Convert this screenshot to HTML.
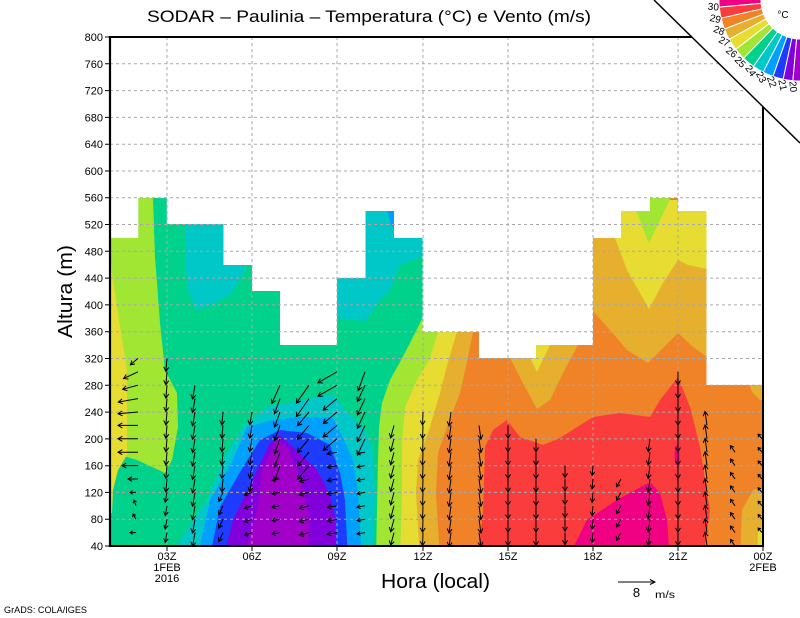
<!DOCTYPE html>
<html><head><meta charset="utf-8"><style>
html,body{margin:0;padding:0;background:#fff;}
svg{display:block;}
text{font-family:"Liberation Sans",sans-serif;fill:#000;}
</style></head><body>
<svg width="800" height="618" viewBox="0 0 800 618" xmlns="http://www.w3.org/2000/svg">
<defs>
<clipPath id="dom"><path d="M110,546 L110,238 L138.4,238 L138.4,198 L166.8,198 L166.8,224 L223.5,224 L223.5,265 L252,265 L252,291 L280,291 L280,345 L337,345 L337,278 L365.6,278 L365.6,211 L394,211 L394,238 L422.5,238 L422.5,332 L479,332 L479,358 L536,358 L536,345 L593,345 L593,238 L621,238 L621,211 L650,211 L650,198 L678,198 L678,211 L706.5,211 L706.5,385 L763,385 L763,546 Z"/></clipPath>
<clipPath id="plot"><rect x="110" y="37" width="653" height="509"/></clipPath>
<path id="v6" d="M0 0H6M3.4 -1.8L6 0L3.4 1.8"/>
<path id="v8" d="M0 0H8M4.8 -2L8 0L4.8 2"/>
<path id="v9" d="M0 0H9M5.5 -2.2L9 0L5.5 2.2"/>
<path id="v10" d="M0 0H10M6 -2.3L10 0L6 2.3"/>
<path id="v12" d="M0 0H12M7.7 -2.5L12 0L7.7 2.5"/>
<path id="v13" d="M0 0H13M8.7 -2.5L13 0L8.7 2.5"/>
<path id="v14" d="M0 0H14M9.7 -2.5L14 0L9.7 2.5"/>
<path id="v16" d="M0 0H16M11.7 -2.5L16 0L11.7 2.5"/>
<path id="v18" d="M0 0H18M13.7 -2.5L18 0L13.7 2.5"/>
<path id="v20" d="M0 0H20M15.7 -2.5L20 0L15.7 2.5"/>
<path id="v22" d="M0 0H22M17.7 -2.5L22 0L17.7 2.5"/>
</defs>
<rect x="0" y="0" width="800" height="618" fill="#fff"/>

<!-- shaded field -->
<g clip-path="url(#dom)">
<rect x="100" y="190" width="670" height="370" fill="#00d28c"/>
<path fill="#a0e632" d="M100,190 L153,190 L153,198 L155,257 L160,323 L165,370 L177,393 L178,427 L172,460 L165,473 L137,460 L127,457 L100,457 Z"/>
<path fill="#e6dc32" d="M100,255 L111,266 L119,320 L127,370 L127,455 L118,470 L113,490 L112,513 L100,513 Z"/>
<path fill="#a0e632" d="M423,190 L423,317 L410,343 L400,362 L390,380 L382,403 L379,427 L378,460 L377,510 L376,560 L770,560 L770,190 Z"/>
<path fill="#e6dc32" d="M438,190 L438,332 L430,358 L417,380 L405,407 L402,443 L402,493 L400,560 L770,560 L770,190 Z"/>
<path fill="#e6af2d" d="M457,190 L457,332 L448,362 L440,393 L430,427 L418,460 L416,493 L420,560 L770,560 L770,190 Z"/>
<path fill="#f08228" d="M473,190 L473,332 L467,362 L460,393 L447,427 L438,453 L436,493 L440,560 L770,560 L770,190 Z"/>
<path fill="#fa3c3c" d="M477,560 L483,513 L485,447 L493,430 L507,420 L520,437 L543,445 L560,438 L593,417 L620,413 L650,417 L660,400 L678,377 L690,407 L700,447 L707,493 L710,510 L703,560 Z"/>
<path fill="#f00082" d="M567,560 L587,520 L617,500 L650,482 L660,493 L667,520 L670,560 Z"/>
<ellipse cx="677" cy="456" rx="2.5" ry="11" fill="#f00082"/>
<path fill="#e6af2d" d="M510,340 L578,340 L578,345 L563,373 L550,400 L537,409 L525,387 L510,358 Z"/>
<path fill="#e6dc32" d="M530,340 L550,340 L550,345 L537,372 L530,358 Z"/>
<path fill="#e6af2d" d="M592,200 L707,200 L707,357 L693,347 L678,333 L648,363 L627,350 L610,330 L592,310 Z"/>
<path fill="#e6dc32" d="M615,200 L707,200 L707,269 L688,265 L678,260 L663,283 L649,309 L627,270 L615,238 Z"/>
<path fill="#a0e632" d="M636,195 L672,195 L649,243 L636,211 Z"/>
<path fill="#e6af2d" d="M748,380 L770,380 L770,402 L760,400 L752,392 Z"/>
<path fill="#e6af2d" d="M740,560 L742,510 L753,490 L770,486 L770,560 Z"/>
<path fill="#e6dc32" d="M757,560 L758,530 L770,524 L770,560 Z"/>
<path fill="#00c8c8" d="M185,200 L247,200 L247,265 L240,280 L230,295 L210,305 L196,310 L188,290 L185,260 Z"/>
<path fill="#00c8c8" d="M336,200 L423,200 L423,256 L400,265 L390,290 L380,300 L365,321 L336,318 Z"/>
<path fill="#00a0ff" d="M386,205 L395,205 L395,232 L390,222 Z"/>
<path fill="#00c8c8" d="M177,560 L178,546 L190,525 L207,500 L223,460 L243,427 L267,407 L293,402 L317,397 L335,395 L345,410 L363,427 L372,447 L375,493 L373,546 L373,560 Z"/>
<path fill="#00a0ff" d="M200,560 L200,546 L210,500 L233,460 L247,427 L273,420 L300,417 L333,418 L343,438 L353,460 L358,493 L362,560 Z"/>
<path fill="#1e3cff" d="M212,560 L212,546 L220,507 L243,467 L260,440 L280,430 L307,433 L330,445 L340,473 L345,500 L348,560 Z"/>
<path fill="#8200dc" d="M223,560 L233,520 L257,470 L270,443 L280,435 L293,447 L317,470 L330,495 L335,517 L337,560 Z"/>
<path fill="#a000c8" d="M243,560 L257,510 L263,467 L277,440 L287,447 L300,477 L310,520 L307,560 Z"/>
</g>

<!-- grid -->
<g stroke="#a8a8a8" stroke-width="1" stroke-dasharray="3,3" fill="none">
<path d="M110,63.8H763M110,90.6H763M110,117.4H763M110,144.2H763M110,171H763M110,197.7H763M110,224.5H763M110,251.3H763M110,278.1H763M110,304.9H763M110,331.7H763M110,358.5H763M110,385.3H763M110,412.1H763M110,438.9H763M110,465.7H763M110,492.4H763M110,519.2H763"/>
<path d="M167,37V546M252,37V546M337,37V546M423,37V546M508,37V546M593,37V546M678,37V546"/>
</g>

<!-- vectors -->
<g clip-path="url(#plot)" stroke="#000" stroke-width="1" fill="none">
<!-- A -->
<use href="#v10" transform="translate(138,358.4) rotate(140)"/>
<use href="#v16" transform="translate(138,371.8) rotate(155)"/>
<use href="#v16" transform="translate(138,385.2) rotate(165)"/>
<use href="#v20" transform="translate(138,398.6) rotate(170)"/>
<use href="#v20" transform="translate(138,412) rotate(175)"/>
<use href="#v20" transform="translate(138,425.4) rotate(180)"/>
<use href="#v20" transform="translate(138,438.8) rotate(180)"/>
<use href="#v20" transform="translate(138,452.2) rotate(180)"/>
<use href="#v16" transform="translate(138,465.6) rotate(180)"/>
<use href="#v10" transform="translate(138,479) rotate(180)"/>
<use href="#v6" transform="translate(136,492.4) rotate(180)"/>
<use href="#v6" transform="translate(136,505.8) rotate(250)"/>
<use href="#v6" transform="translate(136,519.2) rotate(240)"/>
<use href="#v6" transform="translate(136,532.6) rotate(180)"/>
<!-- B -->
<use href="#v13" transform="translate(167,358.4) rotate(95)"/>
<use href="#v13" transform="translate(167,371.8) rotate(95)"/>
<use href="#v13" transform="translate(167,385.2) rotate(95)"/>
<use href="#v13" transform="translate(167,398.6) rotate(95)"/>
<use href="#v13" transform="translate(167,412) rotate(95)"/>
<use href="#v13" transform="translate(167,425.4) rotate(95)"/>
<use href="#v13" transform="translate(167,438.8) rotate(95)"/>
<use href="#v13" transform="translate(167,452.2) rotate(95)"/>
<use href="#v13" transform="translate(167,465.6) rotate(95)"/>
<use href="#v13" transform="translate(167,479) rotate(95)"/>
<use href="#v10" transform="translate(167,492.4) rotate(100)"/>
<use href="#v10" transform="translate(167,505.8) rotate(100)"/>
<use href="#v10" transform="translate(167,519.2) rotate(100)"/>
<use href="#v10" transform="translate(167,532.6) rotate(100)"/>
<!-- C -->
<use href="#v14" transform="translate(195,385.2) rotate(100)"/>
<use href="#v14" transform="translate(195,398.6) rotate(100)"/>
<use href="#v14" transform="translate(195,412) rotate(100)"/>
<use href="#v14" transform="translate(195,425.4) rotate(100)"/>
<use href="#v14" transform="translate(195,438.8) rotate(100)"/>
<use href="#v14" transform="translate(195,452.2) rotate(100)"/>
<use href="#v14" transform="translate(195,465.6) rotate(100)"/>
<use href="#v14" transform="translate(195,479) rotate(100)"/>
<use href="#v14" transform="translate(195,492.4) rotate(100)"/>
<use href="#v14" transform="translate(195,505.8) rotate(100)"/>
<use href="#v14" transform="translate(195,519.2) rotate(100)"/>
<use href="#v14" transform="translate(195,532.6) rotate(100)"/>
<!-- D -->
<use href="#v13" transform="translate(223,412) rotate(95)"/>
<use href="#v13" transform="translate(223,425.4) rotate(95)"/>
<use href="#v13" transform="translate(223,438.8) rotate(95)"/>
<use href="#v13" transform="translate(223,452.2) rotate(95)"/>
<use href="#v13" transform="translate(223,465.6) rotate(95)"/>
<use href="#v13" transform="translate(223,479) rotate(95)"/>
<use href="#v10" transform="translate(223,492.4) rotate(115)"/>
<use href="#v10" transform="translate(223,505.8) rotate(115)"/>
<use href="#v10" transform="translate(223,519.2) rotate(115)"/>
<use href="#v10" transform="translate(223,532.6) rotate(115)"/>
<!-- E -->
<use href="#v13" transform="translate(252,412) rotate(100)"/>
<use href="#v13" transform="translate(252,425.4) rotate(100)"/>
<use href="#v13" transform="translate(252,438.8) rotate(100)"/>
<use href="#v13" transform="translate(252,452.2) rotate(100)"/>
<use href="#v13" transform="translate(252,465.6) rotate(100)"/>
<use href="#v13" transform="translate(252,479) rotate(100)"/>
<use href="#v8" transform="translate(252,492.4) rotate(160)"/>
<use href="#v8" transform="translate(252,505.8) rotate(160)"/>
<use href="#v8" transform="translate(252,519.2) rotate(160)"/>
<use href="#v8" transform="translate(252,532.6) rotate(160)"/>
<!-- F -->
<use href="#v20" transform="translate(280,385.2) rotate(114)"/>
<use href="#v16" transform="translate(280,398.6) rotate(110)"/>
<use href="#v16" transform="translate(280,412) rotate(110)"/>
<use href="#v16" transform="translate(280,425.4) rotate(110)"/>
<use href="#v16" transform="translate(280,438.8) rotate(110)"/>
<use href="#v16" transform="translate(280,452.2) rotate(110)"/>
<use href="#v16" transform="translate(280,465.6) rotate(110)"/>
<use href="#v8" transform="translate(280,479) rotate(170)"/>
<use href="#v8" transform="translate(280,492.4) rotate(170)"/>
<use href="#v8" transform="translate(280,505.8) rotate(170)"/>
<use href="#v8" transform="translate(280,519.2) rotate(170)"/>
<use href="#v8" transform="translate(280,532.6) rotate(170)"/>
<!-- G -->
<use href="#v22" transform="translate(309,385.2) rotate(125)"/>
<use href="#v22" transform="translate(309,398.6) rotate(125)"/>
<use href="#v18" transform="translate(309,412) rotate(130)"/>
<use href="#v18" transform="translate(309,425.4) rotate(130)"/>
<use href="#v18" transform="translate(309,438.8) rotate(130)"/>
<use href="#v18" transform="translate(309,452.2) rotate(130)"/>
<use href="#v18" transform="translate(309,465.6) rotate(130)"/>
<use href="#v10" transform="translate(309,479) rotate(165)"/>
<use href="#v10" transform="translate(309,492.4) rotate(165)"/>
<use href="#v10" transform="translate(309,505.8) rotate(165)"/>
<use href="#v10" transform="translate(309,519.2) rotate(165)"/>
<use href="#v10" transform="translate(309,532.6) rotate(165)"/>
<!-- H -->
<use href="#v22" transform="translate(337,371.8) rotate(150)"/>
<use href="#v22" transform="translate(337,385.2) rotate(150)"/>
<use href="#v18" transform="translate(337,398.6) rotate(140)"/>
<use href="#v18" transform="translate(337,412) rotate(140)"/>
<use href="#v18" transform="translate(337,425.4) rotate(140)"/>
<use href="#v18" transform="translate(337,438.8) rotate(140)"/>
<use href="#v10" transform="translate(337,452.2) rotate(170)"/>
<use href="#v10" transform="translate(337,465.6) rotate(170)"/>
<use href="#v10" transform="translate(337,479) rotate(170)"/>
<use href="#v10" transform="translate(337,492.4) rotate(170)"/>
<use href="#v10" transform="translate(337,505.8) rotate(170)"/>
<use href="#v10" transform="translate(337,519.2) rotate(170)"/>
<use href="#v10" transform="translate(337,532.6) rotate(170)"/>
<!-- I -->
<use href="#v20" transform="translate(365,371.8) rotate(110)"/>
<use href="#v18" transform="translate(365,385.2) rotate(115)"/>
<use href="#v18" transform="translate(365,398.6) rotate(115)"/>
<use href="#v18" transform="translate(365,412) rotate(115)"/>
<use href="#v18" transform="translate(365,425.4) rotate(115)"/>
<use href="#v18" transform="translate(365,438.8) rotate(115)"/>
<use href="#v8" transform="translate(365,452.2) rotate(170)"/>
<use href="#v8" transform="translate(365,465.6) rotate(170)"/>
<use href="#v8" transform="translate(365,479) rotate(170)"/>
<use href="#v8" transform="translate(365,492.4) rotate(170)"/>
<use href="#v8" transform="translate(365,505.8) rotate(170)"/>
<use href="#v8" transform="translate(365,519.2) rotate(170)"/>
<use href="#v8" transform="translate(365,532.6) rotate(170)"/>
<!-- J -->
<use href="#v13" transform="translate(394,425.4) rotate(105)"/>
<use href="#v13" transform="translate(394,438.8) rotate(105)"/>
<use href="#v13" transform="translate(394,452.2) rotate(105)"/>
<use href="#v13" transform="translate(394,465.6) rotate(105)"/>
<use href="#v13" transform="translate(394,479) rotate(105)"/>
<use href="#v13" transform="translate(394,492.4) rotate(105)"/>
<use href="#v13" transform="translate(394,505.8) rotate(105)"/>
<use href="#v13" transform="translate(394,519.2) rotate(105)"/>
<use href="#v13" transform="translate(394,532.6) rotate(105)"/>
<!-- K -->
<use href="#v13" transform="translate(423,412) rotate(92)"/>
<use href="#v13" transform="translate(423,425.4) rotate(92)"/>
<use href="#v13" transform="translate(423,438.8) rotate(92)"/>
<use href="#v13" transform="translate(423,452.2) rotate(92)"/>
<use href="#v13" transform="translate(423,465.6) rotate(92)"/>
<use href="#v13" transform="translate(423,479) rotate(92)"/>
<use href="#v13" transform="translate(423,492.4) rotate(92)"/>
<use href="#v13" transform="translate(423,505.8) rotate(92)"/>
<use href="#v13" transform="translate(423,519.2) rotate(92)"/>
<use href="#v13" transform="translate(423,532.6) rotate(92)"/>
<!-- L -->
<use href="#v14" transform="translate(451,412) rotate(98)"/>
<use href="#v14" transform="translate(451,425.4) rotate(98)"/>
<use href="#v14" transform="translate(451,438.8) rotate(98)"/>
<use href="#v14" transform="translate(451,452.2) rotate(98)"/>
<use href="#v14" transform="translate(451,465.6) rotate(98)"/>
<use href="#v14" transform="translate(451,479) rotate(98)"/>
<use href="#v14" transform="translate(451,492.4) rotate(98)"/>
<use href="#v14" transform="translate(451,505.8) rotate(98)"/>
<use href="#v14" transform="translate(451,519.2) rotate(98)"/>
<use href="#v14" transform="translate(451,532.6) rotate(98)"/>
<!-- M -->
<use href="#v14" transform="translate(479,425.4) rotate(82)"/>
<use href="#v14" transform="translate(479,438.8) rotate(82)"/>
<use href="#v14" transform="translate(479,452.2) rotate(82)"/>
<use href="#v14" transform="translate(479,465.6) rotate(82)"/>
<use href="#v14" transform="translate(479,479) rotate(82)"/>
<use href="#v14" transform="translate(479,492.4) rotate(82)"/>
<use href="#v14" transform="translate(479,505.8) rotate(82)"/>
<use href="#v14" transform="translate(479,519.2) rotate(82)"/>
<use href="#v14" transform="translate(479,532.6) rotate(82)"/>
<!-- N -->
<use href="#v13" transform="translate(508,425.4) rotate(90)"/>
<use href="#v13" transform="translate(508,438.8) rotate(90)"/>
<use href="#v13" transform="translate(508,452.2) rotate(90)"/>
<use href="#v13" transform="translate(508,465.6) rotate(90)"/>
<use href="#v13" transform="translate(508,479) rotate(90)"/>
<use href="#v13" transform="translate(508,492.4) rotate(90)"/>
<use href="#v13" transform="translate(508,505.8) rotate(90)"/>
<use href="#v13" transform="translate(508,519.2) rotate(90)"/>
<use href="#v13" transform="translate(508,532.6) rotate(90)"/>
<!-- O -->
<use href="#v13" transform="translate(536,438.8) rotate(90)"/>
<use href="#v13" transform="translate(536,452.2) rotate(90)"/>
<use href="#v13" transform="translate(536,465.6) rotate(90)"/>
<use href="#v13" transform="translate(536,479) rotate(90)"/>
<use href="#v13" transform="translate(536,492.4) rotate(90)"/>
<use href="#v13" transform="translate(536,505.8) rotate(90)"/>
<use href="#v13" transform="translate(536,519.2) rotate(90)"/>
<use href="#v13" transform="translate(536,532.6) rotate(90)"/>
<!-- P -->
<use href="#v12" transform="translate(565,465.6) rotate(90)"/>
<use href="#v12" transform="translate(565,479) rotate(90)"/>
<use href="#v12" transform="translate(565,492.4) rotate(90)"/>
<use href="#v12" transform="translate(565,505.8) rotate(90)"/>
<use href="#v12" transform="translate(565,519.2) rotate(90)"/>
<use href="#v12" transform="translate(565,532.6) rotate(90)"/>
<!-- Q -->
<use href="#v10" transform="translate(593,465.6) rotate(95)"/>
<use href="#v10" transform="translate(593,479) rotate(95)"/>
<use href="#v10" transform="translate(593,492.4) rotate(95)"/>
<use href="#v10" transform="translate(593,505.8) rotate(95)"/>
<use href="#v10" transform="translate(593,519.2) rotate(95)"/>
<use href="#v10" transform="translate(593,532.6) rotate(95)"/>
<!-- R -->
<use href="#v9" transform="translate(621,479) rotate(120)"/>
<use href="#v9" transform="translate(621,492.4) rotate(120)"/>
<use href="#v9" transform="translate(621,505.8) rotate(120)"/>
<use href="#v9" transform="translate(621,519.2) rotate(120)"/>
<use href="#v9" transform="translate(621,532.6) rotate(120)"/>
<!-- S -->
<use href="#v13" transform="translate(650,438.8) rotate(98)"/>
<use href="#v13" transform="translate(650,452.2) rotate(98)"/>
<use href="#v13" transform="translate(650,465.6) rotate(98)"/>
<use href="#v13" transform="translate(650,479) rotate(98)"/>
<use href="#v13" transform="translate(650,492.4) rotate(98)"/>
<use href="#v13" transform="translate(650,505.8) rotate(98)"/>
<use href="#v13" transform="translate(650,519.2) rotate(98)"/>
<use href="#v13" transform="translate(650,532.6) rotate(98)"/>
<!-- T -->
<use href="#v13" transform="translate(678,371.8) rotate(90)"/>
<use href="#v13" transform="translate(678,385.2) rotate(90)"/>
<use href="#v13" transform="translate(678,398.6) rotate(90)"/>
<use href="#v13" transform="translate(678,412) rotate(90)"/>
<use href="#v13" transform="translate(678,425.4) rotate(90)"/>
<use href="#v13" transform="translate(678,438.8) rotate(90)"/>
<use href="#v13" transform="translate(678,452.2) rotate(90)"/>
<use href="#v13" transform="translate(678,465.6) rotate(90)"/>
<use href="#v13" transform="translate(678,479) rotate(90)"/>
<use href="#v13" transform="translate(678,492.4) rotate(90)"/>
<use href="#v13" transform="translate(678,505.8) rotate(90)"/>
<use href="#v13" transform="translate(678,519.2) rotate(90)"/>
<use href="#v13" transform="translate(678,532.6) rotate(90)"/>
<!-- U -->
<use href="#v14" transform="translate(707,425.4) rotate(262)"/>
<use href="#v14" transform="translate(707,438.8) rotate(262)"/>
<use href="#v14" transform="translate(707,452.2) rotate(262)"/>
<use href="#v14" transform="translate(707,465.6) rotate(262)"/>
<use href="#v14" transform="translate(707,479) rotate(262)"/>
<use href="#v14" transform="translate(707,492.4) rotate(262)"/>
<use href="#v14" transform="translate(707,505.8) rotate(262)"/>
<use href="#v14" transform="translate(707,519.2) rotate(262)"/>
<use href="#v14" transform="translate(707,532.6) rotate(262)"/>
<use href="#v14" transform="translate(707,546) rotate(262)"/>
<!-- V -->
<use href="#v8" transform="translate(735,452.2) rotate(235)"/>
<use href="#v8" transform="translate(735,465.6) rotate(235)"/>
<use href="#v8" transform="translate(735,479) rotate(235)"/>
<use href="#v8" transform="translate(735,492.4) rotate(235)"/>
<use href="#v8" transform="translate(735,505.8) rotate(235)"/>
<use href="#v8" transform="translate(735,519.2) rotate(235)"/>
<use href="#v8" transform="translate(735,532.6) rotate(235)"/>
<use href="#v8" transform="translate(735,546) rotate(235)"/>
<!-- W -->
<use href="#v6" transform="translate(762,438.8) rotate(230)"/>
<use href="#v6" transform="translate(762,452.2) rotate(230)"/>
<use href="#v6" transform="translate(762,465.6) rotate(230)"/>
<use href="#v6" transform="translate(762,479) rotate(230)"/>
<use href="#v6" transform="translate(762,492.4) rotate(230)"/>
<use href="#v6" transform="translate(762,505.8) rotate(230)"/>
<use href="#v6" transform="translate(762,519.2) rotate(230)"/>
<use href="#v6" transform="translate(762,532.6) rotate(230)"/>
</g>

<!-- frame -->
<g stroke="#000" fill="none">
<path d="M110,36V547" stroke-width="2.2"/>
<path d="M109,37H700" stroke-width="2"/>
<path d="M109,546H764" stroke-width="2"/>
<path d="M763,100V547" stroke-width="2"/>
<path stroke-width="1" d="M105,37H110M105,63.8H110M105,90.6H110M105,117.4H110M105,144.2H110M105,171H110M105,197.7H110M105,224.5H110M105,251.3H110M105,278.1H110M105,304.9H110M105,331.7H110M105,358.5H110M105,385.3H110M105,412.1H110M105,438.9H110M105,465.7H110M105,492.4H110M105,519.2H110M105,546H110"/>
<path stroke-width="1" d="M167,546V551M252,546V551M337,546V551M423,546V551M508,546V551M593,546V551M678,546V551M763,546V551"/>
</g>

<!-- corner cutout + diagonal -->
<path d="M654,0 L800,0 L800,143 Z" fill="#fff"/>
<path d="M654,0 L800,143" stroke="#000" stroke-width="1.5"/>

<!-- colour legend wedge -->
<g stroke="#fff" stroke-width="1">
<path fill="#f00082" d="M719.3,-7.1 A81,81 0 0 0 719.3,7.1 L761.1,3.4 A39,39 0 0 1 761.1,-3.4 Z"/>
<path fill="#fa3c3c" d="M719.3,7.1 A81,81 0 0 0 721.1,18.2 L762,8.8 A39,39 0 0 1 761.1,3.4 Z"/>
<path fill="#f08228" d="M721.1,18.2 A81,81 0 0 0 724.4,29 L763.6,14 A39,39 0 0 1 762,8.8 Z"/>
<path fill="#e6af2d" d="M724.4,29 A81,81 0 0 0 729.2,39.3 L765.9,18.9 A39,39 0 0 1 763.6,14 Z"/>
<path fill="#e6dc32" d="M729.2,39.3 A81,81 0 0 0 735.7,49.3 L769.1,23.7 A39,39 0 0 1 765.9,18.9 Z"/>
<path fill="#a0e632" d="M735.7,49.3 A81,81 0 0 0 743.7,58.3 L772.9,28.1 A39,39 0 0 1 769.1,23.7 Z"/>
<path fill="#00d28c" d="M743.7,58.3 A81,81 0 0 0 753.5,66.4 L777.6,31.9 A39,39 0 0 1 772.9,28.1 Z"/>
<path fill="#00c8c8" d="M753.5,66.4 A81,81 0 0 0 763.2,72.2 L782.3,34.7 A39,39 0 0 1 777.6,31.9 Z"/>
<path fill="#00a0ff" d="M763.2,72.2 A81,81 0 0 0 773,76.4 L787,36.8 A39,39 0 0 1 782.3,34.7 Z"/>
<path fill="#1e3cff" d="M773,76.4 A81,81 0 0 0 783.2,79.2 L791.9,38.1 A39,39 0 0 1 787,36.8 Z"/>
<path fill="#8200dc" d="M783.2,79.2 A81,81 0 0 0 792.9,80.7 L796.6,38.9 A39,39 0 0 1 791.9,38.1 Z"/>
<path fill="#a000c8" d="M792.9,80.7 A81,81 0 0 0 807.1,80.7 L803.4,38.9 A39,39 0 0 1 796.6,38.9 Z"/>
</g>
<g font-size="10" text-anchor="middle" dominant-baseline="central">
<text transform="translate(713.3,7.6) rotate(5)">30</text>
<text transform="translate(715.2,19.6) rotate(13)">29</text>
<text transform="translate(718.8,31.2) rotate(21)">28</text>
<text transform="translate(723.9,42.2) rotate(29)">27</text>
<text transform="translate(731,53) rotate(37.5)">26</text>
<text transform="translate(739.6,62.6) rotate(46)">25</text>
<text transform="translate(750.1,71.3) rotate(55)">24</text>
<text transform="translate(760.5,77.5) rotate(63)">23</text>
<text transform="translate(771,82) rotate(70.5)">22</text>
<text transform="translate(781.9,85.1) rotate(78)">21</text>
<text transform="translate(792.4,86.7) rotate(85)">20</text>
</g>
<text x="783" y="18" font-size="10" text-anchor="middle">°C</text>

<!-- title -->
<text x="147" y="22" font-size="17" textLength="444" lengthAdjust="spacingAndGlyphs">SODAR – Paulinia – Temperatura (°C) e Vento (m/s)</text>

<!-- y tick labels -->
<g font-size="11" text-anchor="end">
<text x="103" y="41">800</text>
<text x="103" y="67.8">760</text>
<text x="103" y="94.6">720</text>
<text x="103" y="121.4">680</text>
<text x="103" y="148.2">640</text>
<text x="103" y="175">600</text>
<text x="103" y="201.7">560</text>
<text x="103" y="228.5">520</text>
<text x="103" y="255.3">480</text>
<text x="103" y="282.1">440</text>
<text x="103" y="308.9">400</text>
<text x="103" y="335.7">360</text>
<text x="103" y="362.5">320</text>
<text x="103" y="389.3">280</text>
<text x="103" y="416.1">240</text>
<text x="103" y="442.9">200</text>
<text x="103" y="469.7">160</text>
<text x="103" y="496.4">120</text>
<text x="103" y="523.2">80</text>
<text x="103" y="550">40</text>
</g>

<!-- x tick labels -->
<g font-size="11" text-anchor="middle">
<text x="167" y="560">03Z</text>
<text x="167" y="571">1FEB</text>
<text x="167" y="582">2016</text>
<text x="252" y="560">06Z</text>
<text x="337" y="560">09Z</text>
<text x="423" y="560">12Z</text>
<text x="508" y="560">15Z</text>
<text x="593" y="560">18Z</text>
<text x="678" y="560">21Z</text>
<text x="763" y="560">00Z</text>
<text x="763" y="571">2FEB</text>
</g>

<!-- axis titles -->
<text transform="translate(72,291.5) rotate(-90)" font-size="20" text-anchor="middle" textLength="93" lengthAdjust="spacingAndGlyphs">Altura (m)</text>
<text x="381" y="588" font-size="20" textLength="109" lengthAdjust="spacingAndGlyphs">Hora (local)</text>

<!-- vector reference -->
<g stroke="#000" fill="none" stroke-width="1">
<path d="M618,582H655M650,579.5L655,582L650,584.5"/>
</g>
<text x="636.5" y="597" font-size="13" text-anchor="middle">8</text>
<text x="655" y="598" font-size="10" textLength="20" lengthAdjust="spacingAndGlyphs">m/s</text>

<text x="4" y="613" font-size="9" textLength="83" lengthAdjust="spacingAndGlyphs">GrADS: COLA/IGES</text>
</svg>
</body></html>
